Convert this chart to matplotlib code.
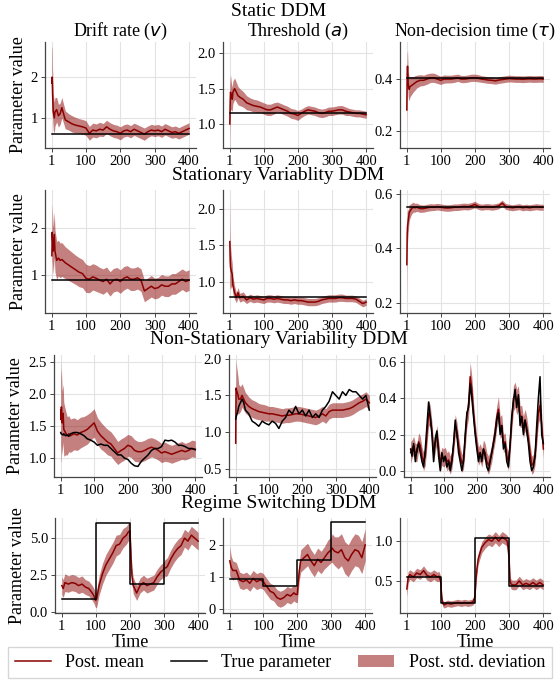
import numpy as np
import matplotlib
matplotlib.use("Agg")
import matplotlib.pyplot as plt
from matplotlib.lines import Line2D
from matplotlib.patches import Patch

plt.rcParams['font.family'] = ['Liberation Serif', 'DejaVu Serif']
plt.rcParams['mathtext.fontset'] = 'dejavusans'

MEAN_COLOR = '#8b0000'
BAND_COLOR = '#8b0000'

# shared time grid for static / stationary / non-stationary (v, a)
TIME = [1, 2, 3, 5, 8, 10, 15, 20, 25, 30, 40, 50, 60, 70, 80, 90, 100, 110, 120, 130,
        140, 150, 160, 170, 180, 190, 200, 210, 220, 230, 240, 250, 260, 270, 280, 290,
        300, 310, 320, 330, 340, 350, 360, 370, 380, 390, 400]

# finer grid for the non-stationary tau panel
TIME5 = [1, 5, 10, 15, 20, 25, 30, 35, 40, 45, 50, 55, 60, 65, 70, 75, 80, 85, 90, 95,
         100, 105, 110, 115, 120, 125, 130, 135, 140, 145, 150, 155, 160, 165, 170, 175,
         180, 185, 190, 195, 200, 205, 210, 215, 220, 225, 230, 235, 240, 245, 250, 255,
         260, 265, 270, 275, 280, 285, 290, 295, 300, 305, 310, 315, 320, 325, 330, 335,
         340, 345, 350, 355, 360, 365, 370, 375, 380, 385, 390, 395, 400]

# grid for regime switching panels
TIME_R = [1, 5, 10, 20, 30, 40, 50, 60, 70, 80, 90, 95, 100, 103, 106, 110, 120, 130, 140,
          150, 160, 170, 180, 190, 195, 200, 203, 206, 210, 220, 230, 240, 250, 260, 270,
          280, 290, 295, 300, 303, 306, 310, 320, 330, 340, 350, 360, 370, 380, 390, 400]
SWITCH_T = [1, 100, 200, 300, 400]

# ---- Static DDM ----
static_v_true = 0.6
static_v_mean = [1.85, 2.0, 1.6, 1.15, 1.0, 1.15, 1.2, 1.05, 1.1, 1.25, 0.95, 0.9, 0.85, 0.82,
                 0.8, 0.78, 0.75, 0.62, 0.7, 0.68, 0.72, 0.7, 0.78, 0.72, 0.68, 0.66, 0.62,
                 0.68, 0.7, 0.66, 0.72, 0.68, 0.64, 0.6, 0.66, 0.7, 0.68, 0.7, 0.66, 0.72,
                 0.68, 0.64, 0.66, 0.62, 0.66, 0.7, 0.74]
static_v_std = [0.85, 0.75, 0.6, 0.45, 0.38, 0.35, 0.3, 0.28, 0.26, 0.25, 0.22, 0.2, 0.2, 0.19,
                0.18, 0.18, 0.18, 0.17, 0.17, 0.17, 0.17, 0.16, 0.16, 0.16, 0.16, 0.16, 0.16,
                0.15, 0.15, 0.15, 0.15, 0.15, 0.15, 0.15, 0.14, 0.14, 0.14, 0.14, 0.14, 0.14,
                0.14, 0.14, 0.14, 0.14, 0.14, 0.14, 0.14]
static_a_true = 1.15
static_a_mean = [1.0, 1.3, 1.45, 1.4, 1.35, 1.45, 1.5, 1.45, 1.4, 1.38, 1.35, 1.3, 1.28, 1.26,
                 1.25, 1.24, 1.22, 1.2, 1.2, 1.22, 1.24, 1.22, 1.2, 1.18, 1.15, 1.14, 1.12,
                 1.15, 1.18, 1.2, 1.19, 1.18, 1.16, 1.15, 1.16, 1.18, 1.18, 1.19, 1.2, 1.2,
                 1.18, 1.17, 1.16, 1.15, 1.15, 1.14, 1.13]
static_a_std = [0.55, 0.35, 0.25, 0.2, 0.17, 0.16, 0.15, 0.14, 0.13, 0.12, 0.11, 0.1, 0.09,
                0.09, 0.09, 0.08, 0.08, 0.08, 0.08, 0.08, 0.07, 0.07, 0.07, 0.07, 0.07, 0.07,
                0.07, 0.06, 0.06, 0.06, 0.06, 0.06, 0.06, 0.06, 0.06, 0.06, 0.06, 0.06, 0.06,
                0.06, 0.06, 0.05, 0.05, 0.05, 0.05, 0.05, 0.05]
static_t_true = 0.405
static_t_mean = [0.28, 0.42, 0.45, 0.38, 0.36, 0.37, 0.375, 0.38, 0.385, 0.39, 0.395, 0.395,
                 0.4, 0.405, 0.405, 0.4, 0.395, 0.4, 0.4, 0.4, 0.402, 0.405, 0.4, 0.4, 0.402,
                 0.405, 0.405, 0.403, 0.4, 0.398, 0.396, 0.395, 0.393, 0.396, 0.398, 0.4,
                 0.402, 0.401, 0.4, 0.4, 0.399, 0.4, 0.401, 0.4, 0.4, 0.401, 0.4]
static_t_std = [0.13, 0.08, 0.06, 0.05, 0.045, 0.04, 0.035, 0.03, 0.028, 0.025, 0.022, 0.02,
                0.02, 0.018, 0.018, 0.017, 0.016, 0.016, 0.015, 0.015, 0.015, 0.014, 0.014,
                0.014, 0.014, 0.014, 0.014, 0.014, 0.013, 0.013, 0.013, 0.013, 0.013, 0.013,
                0.013, 0.013, 0.013, 0.013, 0.013, 0.013, 0.013, 0.013, 0.013, 0.013, 0.013,
                0.013, 0.013]

# ---- Stationary Variability DDM ----
stat_v_true = 0.88
stat_v_mean = [1.4, 1.9, 1.75, 1.5, 1.85, 1.5, 1.3, 1.35, 1.3, 1.32, 1.25, 1.2, 1.15, 1.1,
               1.05, 1.02, 0.92, 0.9, 0.95, 0.92, 0.88, 0.85, 0.9, 0.8, 0.88, 0.9, 0.85, 0.92,
               0.95, 0.9, 0.9, 0.93, 0.88, 0.65, 0.7, 0.75, 0.7, 0.72, 0.78, 0.75, 0.75, 0.8,
               0.8, 0.85, 0.9, 0.85, 0.88]
stat_v_std = [0.65, 0.6, 0.55, 0.5, 0.48, 0.45, 0.4, 0.38, 0.37, 0.36, 0.34, 0.33, 0.32, 0.31,
              0.31, 0.3, 0.3, 0.29, 0.28, 0.28, 0.27, 0.27, 0.26, 0.26, 0.25, 0.25, 0.25, 0.25,
              0.24, 0.24, 0.24, 0.24, 0.24, 0.23, 0.23, 0.23, 0.22, 0.22, 0.22, 0.22, 0.22,
              0.22, 0.22, 0.22, 0.22, 0.22, 0.22]
stat_a_true = 0.79
stat_a_mean = [1.55, 1.3, 1.2, 1.15, 1.1, 0.95, 0.85, 0.78, 0.85, 0.78, 0.8, 0.75, 0.78, 0.76,
               0.77, 0.76, 0.75, 0.77, 0.77, 0.76, 0.77, 0.76, 0.75, 0.75, 0.74, 0.75, 0.74,
               0.74, 0.73, 0.72, 0.72, 0.72, 0.73, 0.75, 0.76, 0.77, 0.77, 0.77, 0.78, 0.78,
               0.77, 0.77, 0.77, 0.76, 0.73, 0.7, 0.72]
stat_a_std = [0.6, 0.4, 0.3, 0.22, 0.15, 0.12, 0.09, 0.07, 0.07, 0.06, 0.06, 0.05, 0.05, 0.05,
              0.05, 0.05, 0.05, 0.05, 0.05, 0.05, 0.05, 0.05, 0.05, 0.05, 0.05, 0.05, 0.05,
              0.05, 0.05, 0.05, 0.05, 0.05, 0.05, 0.05, 0.05, 0.05, 0.05, 0.05, 0.05, 0.05,
              0.045, 0.045, 0.045, 0.045, 0.045, 0.045, 0.045]
stat_t_true = 0.55
stat_t_mean = [0.34, 0.45, 0.48, 0.5, 0.53, 0.535, 0.545, 0.55, 0.548, 0.55, 0.545, 0.545,
               0.548, 0.55, 0.55, 0.552, 0.55, 0.548, 0.547, 0.548, 0.55, 0.55, 0.552, 0.553,
               0.552, 0.555, 0.56, 0.553, 0.55, 0.552, 0.552, 0.55, 0.552, 0.555, 0.565, 0.553,
               0.55, 0.548, 0.55, 0.552, 0.548, 0.55, 0.548, 0.55, 0.552, 0.55, 0.55]
stat_t_std = [0.15, 0.08, 0.06, 0.04, 0.03, 0.025, 0.02, 0.018, 0.016, 0.015, 0.014, 0.013,
              0.013, 0.013, 0.012, 0.012, 0.012, 0.012, 0.012, 0.012, 0.012, 0.012, 0.012,
              0.012, 0.012, 0.012, 0.012, 0.011, 0.011, 0.011, 0.011, 0.011, 0.011, 0.011,
              0.011, 0.011, 0.011, 0.011, 0.011, 0.011, 0.011, 0.011, 0.011, 0.011, 0.011,
              0.011, 0.011]

# ---- Non-Stationary Variability DDM ----
nons_v_true = [1.4, 1.38, 1.38, 1.37, 1.36, 1.38, 1.35, 1.36, 1.34, 1.38, 1.4, 1.4, 1.38, 1.35,
               1.3, 1.28, 1.25, 1.2, 1.22, 1.2, 1.2, 1.15, 1.1, 1.05, 1.05, 1.0, 0.98, 0.92,
               0.88, 0.87, 0.95, 1.0, 1.05, 1.12, 1.15, 1.15, 1.18, 1.28, 1.27, 1.28, 1.25,
               1.2, 1.2, 1.18, 1.15, 1.15, 1.13]
nons_v_mean = [1.75, 1.6, 1.8, 1.55, 1.7, 1.45, 1.4, 1.35, 1.38, 1.35, 1.38, 1.36, 1.4, 1.42,
               1.45, 1.5, 1.55, 1.42, 1.35, 1.3, 1.25, 1.22, 1.15, 1.08, 1.12, 1.15, 1.2, 1.18,
               1.12, 1.1, 1.1, 1.12, 1.15, 1.17, 1.15, 1.12, 1.08, 1.1, 1.08, 1.06, 1.08, 1.1,
               1.12, 1.1, 1.12, 1.15, 1.14]
nons_v_std = [0.8, 0.65, 0.6, 0.5, 0.45, 0.42, 0.35, 0.3, 0.28, 0.26, 0.25, 0.24, 0.24, 0.23,
              0.23, 0.22, 0.22, 0.21, 0.21, 0.2, 0.2, 0.19, 0.19, 0.18, 0.18, 0.18, 0.17, 0.17,
              0.17, 0.16, 0.16, 0.16, 0.16, 0.15, 0.15, 0.15, 0.15, 0.15, 0.14, 0.14, 0.14,
              0.14, 0.14, 0.13, 0.13, 0.13, 0.13]
nons_a_true = [1.18, 1.2, 1.22, 1.25, 1.3, 1.35, 1.4, 1.45, 1.4, 1.3, 1.25, 1.15, 1.12, 1.08,
               1.15, 1.12, 1.1, 1.15, 1.12, 1.05, 1.15, 1.2, 1.3, 1.25, 1.35, 1.25, 1.3, 1.22,
               1.3, 1.2, 1.25, 1.2, 1.3, 1.35, 1.42, 1.55, 1.5, 1.45, 1.55, 1.5, 1.58, 1.55,
               1.55, 1.5, 1.45, 1.5, 1.3]
nons_a_mean = [0.85, 1.6, 1.58, 1.55, 1.5, 1.45, 1.45, 1.5, 1.45, 1.4, 1.35, 1.32, 1.3, 1.28,
               1.27, 1.26, 1.25, 1.25, 1.24, 1.23, 1.22, 1.23, 1.23, 1.24, 1.25, 1.25, 1.24,
               1.23, 1.22, 1.21, 1.2, 1.22, 1.25, 1.22, 1.28, 1.3, 1.3, 1.3, 1.3, 1.31, 1.32,
               1.34, 1.37, 1.4, 1.42, 1.45, 1.4]
nons_a_std = [0.55, 0.4, 0.35, 0.3, 0.25, 0.2, 0.17, 0.16, 0.15, 0.14, 0.13, 0.12, 0.12, 0.11,
              0.11, 0.11, 0.1, 0.1, 0.1, 0.1, 0.1, 0.1, 0.1, 0.1, 0.1, 0.1, 0.1, 0.1, 0.1, 0.1,
              0.1, 0.1, 0.1, 0.1, 0.1, 0.1, 0.1, 0.1, 0.1, 0.1, 0.1, 0.1, 0.1, 0.1, 0.1, 0.1,
              0.1]
nons_t_true = [0.12, 0.08, 0.15, 0.05, 0.12, 0.15, 0.1, 0.05, 0.02, 0.12, 0.25, 0.38, 0.3, 0.2,
               0.05, 0.18, 0.22, 0.08, 0.0, 0.1, 0.05, 0.08, 0.02, 0.05, 0.0, 0.05, 0.15, 0.28,
               0.2, 0.1, 0.05, 0.0, 0.05, 0.2, 0.32, 0.35, 0.48, 0.4, 0.3, 0.2, 0.12, 0.05, 0.1,
               0.05, 0.12, 0.08, 0.02, 0.0, 0.05, 0.1, 0.15, 0.2, 0.28, 0.32, 0.2, 0.25, 0.12,
               0.15, 0.05, 0.02, 0.15, 0.3, 0.38, 0.45, 0.35, 0.42, 0.25, 0.3, 0.2, 0.28, 0.22,
               0.15, 0.05, 0.0, 0.02, 0.08, 0.25, 0.4, 0.52, 0.2, 0.15]
nons_t_mean = [0.1, 0.12, 0.14, 0.1, 0.1, 0.16, 0.14, 0.08, 0.05, 0.08, 0.2, 0.32, 0.3, 0.22,
               0.1, 0.15, 0.2, 0.12, 0.04, 0.08, 0.07, 0.08, 0.05, 0.06, 0.03, 0.06, 0.14, 0.25,
               0.22, 0.14, 0.08, 0.04, 0.06, 0.18, 0.3, 0.36, 0.52, 0.45, 0.32, 0.22, 0.14,
               0.08, 0.1, 0.07, 0.12, 0.1, 0.05, 0.03, 0.06, 0.1, 0.16, 0.22, 0.3, 0.34, 0.24,
               0.25, 0.15, 0.16, 0.08, 0.05, 0.14, 0.28, 0.4, 0.42, 0.38, 0.4, 0.3, 0.3, 0.24,
               0.28, 0.24, 0.18, 0.1, 0.03, 0.04, 0.08, 0.2, 0.32, 0.36, 0.25, 0.12]
nons_t_std = [0.06, 0.05, 0.05, 0.05, 0.05, 0.05, 0.05, 0.05, 0.05, 0.05, 0.06, 0.07, 0.06,
              0.05, 0.05, 0.05, 0.05, 0.05, 0.05, 0.05, 0.05, 0.05, 0.05, 0.05, 0.05, 0.05,
              0.05, 0.06, 0.05, 0.05, 0.05, 0.05, 0.05, 0.06, 0.06, 0.07, 0.08, 0.07, 0.06,
              0.05, 0.05, 0.05, 0.05, 0.05, 0.05, 0.05, 0.05, 0.05, 0.05, 0.05, 0.05, 0.06,
              0.06, 0.07, 0.06, 0.06, 0.05, 0.05, 0.05, 0.05, 0.05, 0.06, 0.07, 0.07, 0.07,
              0.07, 0.06, 0.06, 0.06, 0.06, 0.06, 0.05, 0.05, 0.05, 0.05, 0.05, 0.06, 0.06,
              0.07, 0.06, 0.05]

# ---- Regime Switching DDM ----
reg_v_true = [0.9, 6.0, 1.9, 6.0, 6.0]
reg_v_mean = [1.8, 1.6, 2.0, 1.9, 2.0, 1.95, 1.8, 1.9, 1.7, 1.6, 1.3, 1.1, 0.8, 0.9, 1.3, 1.8,
              2.6, 3.2, 3.6, 4.0, 4.5, 4.6, 5.0, 5.2, 5.4, 5.5, 4.0, 2.5, 1.8, 1.3, 1.8, 2.0,
              1.8, 1.9, 2.0, 2.4, 2.7, 2.8, 2.9, 3.0, 3.0, 3.1, 3.6, 4.0, 4.3, 4.5, 5.0, 4.8,
              5.2, 5.0, 4.8]
reg_v_std = [0.6, 0.6, 0.6, 0.55, 0.55, 0.55, 0.55, 0.55, 0.5, 0.5, 0.5, 0.5, 0.5, 0.55, 0.6,
             0.65, 0.7, 0.7, 0.7, 0.7, 0.7, 0.65, 0.65, 0.6, 0.6, 0.6, 0.6, 0.55, 0.55, 0.5,
             0.5, 0.5, 0.5, 0.5, 0.5, 0.5, 0.5, 0.5, 0.55, 0.55, 0.6, 0.6, 0.6, 0.6, 0.6, 0.6,
             0.6, 0.6, 0.6, 0.6, 0.6]
reg_a_true = [0.93, 0.72, 1.53, 2.72, 2.72]
reg_a_mean = [1.5, 1.3, 1.2, 1.2, 0.9, 0.85, 0.9, 0.8, 0.95, 0.85, 0.9, 0.88, 0.85, 0.8, 0.75,
              0.7, 0.55, 0.5, 0.35, 0.3, 0.35, 0.45, 0.4, 0.5, 0.45, 0.45, 0.9, 1.2, 1.5, 1.6,
              1.7, 1.5, 1.35, 1.55, 1.45, 1.6, 1.75, 1.8, 1.85, 1.9, 1.85, 1.8, 1.75, 1.85, 1.6,
              1.5, 1.7, 1.85, 1.8, 1.6, 2.0]
reg_a_std = [0.45, 0.35, 0.3, 0.25, 0.25, 0.25, 0.25, 0.25, 0.25, 0.25, 0.25, 0.25, 0.25, 0.25,
             0.25, 0.25, 0.25, 0.25, 0.25, 0.25, 0.25, 0.25, 0.25, 0.25, 0.25, 0.25, 0.3, 0.3,
             0.35, 0.35, 0.35, 0.35, 0.35, 0.35, 0.35, 0.35, 0.4, 0.4, 0.4, 0.45, 0.45, 0.45,
             0.5, 0.5, 0.5, 0.5, 0.5, 0.5, 0.5, 0.5, 0.5]
reg_t_true = [0.55, 0.22, 1.04, 0.44, 0.44]
reg_t_mean = [0.4, 0.55, 0.58, 0.55, 0.6, 0.58, 0.63, 0.57, 0.55, 0.58, 0.55, 0.56, 0.5, 0.3,
              0.22, 0.2, 0.22, 0.21, 0.22, 0.23, 0.22, 0.23, 0.22, 0.23, 0.24, 0.3, 0.5, 0.65,
              0.78, 0.92, 0.98, 1.02, 1.0, 1.05, 1.0, 1.05, 1.02, 1.0, 0.8, 0.5, 0.46, 0.45,
              0.45, 0.5, 0.45, 0.47, 0.45, 0.48, 0.45, 0.48, 0.45]
reg_t_std = [0.1, 0.07, 0.06, 0.06, 0.06, 0.06, 0.06, 0.06, 0.06, 0.06, 0.06, 0.06, 0.06, 0.05,
             0.04, 0.04, 0.04, 0.04, 0.04, 0.04, 0.04, 0.04, 0.04, 0.04, 0.04, 0.05, 0.07, 0.07,
             0.07, 0.07, 0.07, 0.07, 0.07, 0.07, 0.07, 0.07, 0.07, 0.07, 0.06, 0.06, 0.06, 0.06,
             0.06, 0.06, 0.06, 0.06, 0.06, 0.06, 0.06, 0.06, 0.06]

ROW_TITLES = ['Static DDM', 'Stationary Variablity DDM',
              'Non-Stationary Variability DDM', 'Regime Switching DDM']
COL_TITLES = ['Drift rate ($v$)', 'Threshold ($a$)', r'Non-decision time ($\tau$)']
XTICKS = [1, 100, 200, 300, 400]

W, H = 557, 682
# (left, width) in pixels for each row / column
COL_BOX = [[(45, 151), (223, 150), (400, 150)],
           [(45, 151), (223, 150), (400, 150)],
           [(54, 148), (229, 147), (404, 146)],
           [(55, 150), (223, 149), (400, 150)]]
ROW_SPAN = [(42, 148), (190, 313), (355, 477), (518, 613)]
ROW_TITLE_Y = [12, 176, 340, 504]

# (time, mean, std, true_time, true_values, steps, ylim, yticks)
PANELS = [
    [(TIME, static_v_mean, static_v_std, None, static_v_true, False, (0.26, 2.86), [1, 2]),
     (TIME, static_a_mean, static_a_std, None, static_a_true, False, (0.66, 2.16), [1.0, 1.5, 2.0]),
     (TIME, static_t_mean, static_t_std, None, static_t_true, False, (0.132, 0.544), [0.2, 0.4])],
    [(TIME, stat_v_mean, stat_v_std, None, stat_v_true, False, (0.18, 2.8), [1, 2]),
     (TIME, stat_a_mean, stat_a_std, None, stat_a_true, False, (0.57, 2.26), [1.0, 1.5, 2.0]),
     (TIME, stat_t_mean, stat_t_std, None, stat_t_true, False, (0.163, 0.613), [0.2, 0.4, 0.6])],
    [(TIME, nons_v_mean, nons_v_std, TIME, nons_v_true, False, (0.705, 2.61), [1.0, 1.5, 2.0, 2.5]),
     (TIME, nons_a_mean, nons_a_std, TIME, nons_a_true, False, (0.39, 2.05), [0.5, 1.0, 1.5, 2.0]),
     (TIME5, nons_t_mean, nons_t_std, TIME5, nons_t_true, False, (-0.035, 0.64), [0.0, 0.2, 0.4, 0.6])],
    [(TIME_R, reg_v_mean, reg_v_std, SWITCH_T, reg_v_true, True, (-0.05, 6.36), [0.0, 2.5, 5.0]),
     (TIME_R, reg_a_mean, reg_a_std, SWITCH_T, reg_a_true, True, (-0.13, 2.84), [0, 1, 2]),
     (TIME_R, reg_t_mean, reg_t_std, SWITCH_T, reg_t_true, True, (0.098, 1.29), [0.5, 1.0])],
]


def style_axis(ax):
    for side in ['top', 'right']:
        ax.spines[side].set_visible(False)
    for side in ['left', 'bottom']:
        ax.spines[side].set_color('#444444')
        ax.spines[side].set_linewidth(0.9)
    ax.grid(True, color='#e3e3e3', linewidth=0.8)
    ax.set_axisbelow(True)
    ax.tick_params(labelsize=10.5, length=3, width=0.7, color='#444444', pad=2)


fig = plt.figure(figsize=(W / 100, H / 100), dpi=100)

for r, row in enumerate(PANELS):
    top, bottom = ROW_SPAN[r]
    for c, (t, mean, std, tt, true, steps, ylim, yticks) in enumerate(row):
        left, width = COL_BOX[r][c]
        ax = fig.add_axes([left / W, 1 - bottom / H, width / W, (bottom - top) / H])
        style_axis(ax)
        t = np.array(t)
        mean = np.array(mean)
        std = np.array(std)
        ax.fill_between(t, mean - std, mean + std, color=BAND_COLOR, alpha=0.5, linewidth=0)
        ax.plot(t, mean, color=MEAN_COLOR, linewidth=1.1)
        if tt is None:
            ax.plot([t[0], t[-1]], [true, true], color='black', linewidth=1.1)
        elif steps:
            ax.plot(tt, true, color='black', linewidth=1.1, drawstyle='steps-post')
        else:
            ax.plot(tt, true, color='black', linewidth=1.1)
        ax.set_xlim(-19, 420)
        ax.set_ylim(*ylim)
        ax.set_xticks(XTICKS)
        ax.set_yticks(yticks)
        if r == 0:
            ax.set_title(COL_TITLES[c], fontsize=13, pad=4)
        if c == 0:
            ax.set_ylabel('Parameter value', fontsize=13, labelpad=3)
        if r == 3:
            ax.set_xlabel('Time', fontsize=13, labelpad=1)
    fig.text(0.5, 1 - ROW_TITLE_Y[r] / H, ROW_TITLES[r], ha='center', va='center', fontsize=14)

handles = [Line2D([], [], color=MEAN_COLOR, linewidth=1.1),
           Line2D([], [], color='black', linewidth=1.1),
           Patch(facecolor=BAND_COLOR, alpha=0.5, linewidth=0)]
labels = ['Post. mean', 'True parameter', 'Post. std. deviation']
fig.legend(handles, labels, loc='lower left', bbox_to_anchor=(4 / W, 0, 552 / W, 34 / H),
           mode='expand', ncol=3, fontsize=13, frameon=True, fancybox=False,
           edgecolor='#cccccc', handlelength=2.0, borderaxespad=0.2)

fig.savefig('out.png', dpi=100)
